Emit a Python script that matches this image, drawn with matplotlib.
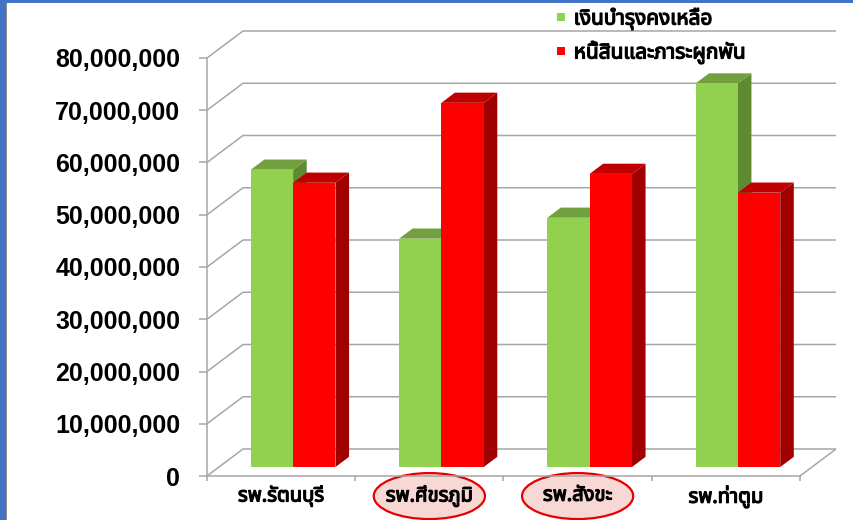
import matplotlib
matplotlib.use("Agg")
import matplotlib.pyplot as plt
import matplotlib.transforms as mtransforms
import matplotlib.patheffects as pe
from matplotlib import font_manager
from matplotlib.font_manager import FontProperties
from matplotlib.patches import Polygon, Ellipse, Rectangle
from matplotlib.lines import Line2D
from matplotlib.ticker import FuncFormatter

# ---- data ----
hospitals = ['รพ.รัตนบุรี', 'รพ.ศีขรภูมิ', 'รพ.สังขะ', 'รพ.ท่าตูม']
remaining = [56.9e6, 43.7e6, 47.7e6, 73.4e6]      # เงินบำรุงคงเหลือ
liabilities = [54.4e6, 69.7e6, 56.1e6, 52.5e6]    # หนี้สินและภาระผูกพัน
series_names = ['เงินบำรุงคงเหลือ', 'หนี้สินและภาระผูกพัน']
highlighted = [1, 2]   # circled hospitals
y_ticks = list(range(0, 80_000_001, 10_000_000))

green = ('#92D050', '#72A03E', '#5E8A32')   # front, top, side
red = ('#FF0000', '#C00000', '#A00000')
grid_col = '#A6A6A6'


def thai_family():
    # look for any installed font that has Thai glyphs, note if a bold face exists
    preferred = ['Noto Sans Thai', 'Noto Sans Thai UI', 'Noto Sans Thai Looped',
                 'Tahoma', 'Loma', 'Garuda', 'Norasi', 'Sarabun']
    found = {}
    for f in font_manager.fontManager.ttflist:
        try:
            if 0x0E23 in font_manager.get_font(f.fname).get_charmap():
                wt = f.weight if isinstance(f.weight, int) else 400
                found[f.name] = max(found.get(f.name, 0), wt)
        except Exception:
            pass
    for name in preferred + list(found):
        if name in found:
            return name, found[name] >= 600
    return 'DejaVu Sans', True


thai, thai_bold = thai_family()
thai_fam = [thai, 'DejaVu Sans']
# fake the bold weight with a thin outline when no bold face is installed
thick = [] if thai_bold else [pe.withStroke(linewidth=0.9, foreground='black')]

fig = plt.figure(figsize=(8.54, 5.2), dpi=100, facecolor='white')
ax = fig.add_axes([207 / 854, 44 / 520, 593 / 854, 418 / 520])
ax.set_xlim(-0.5, 3.5)
ax.set_ylim(0, 80e6)

# oblique depth of the floor, in data units (36 px right, 27 px up)
DX = 36 * 4 / 593
DY = 27 * 80e6 / 418
f0, f1 = 1 / 3, 0.71          # bar front / back as fraction of depth
w = 1 / 3.5                   # gap width 150 %

# walls: diagonal on side wall + horizontal on back wall
grid_kw = dict(color=grid_col, lw=1.1, zorder=0.5, clip_on=False, solid_capstyle='butt')
for v in y_ticks:
    ax.plot([-0.5, -0.5 + DX, 3.5 + DX], [v, v + DY, v + DY], **grid_kw)
ax.plot([3.5, 3.5 + DX], [0, DY], **grid_kw)

# pseudo 3D bars
z = 3
for i, (g, r) in enumerate(zip(remaining, liabilities)):
    for k, (val, cols) in enumerate([(g, green), (r, red)]):
        xl = i - w + k * w + f0 * DX
        xr = xl + w
        y0 = f0 * DY
        y1 = y0 + val
        ddx, ddy = (f1 - f0) * DX, (f1 - f0) * DY
        ax.add_patch(Polygon([(xr, y0), (xr, y1), (xr + ddx, y1 + ddy), (xr + ddx, y0 + ddy)],
                             closed=True, fc=cols[2], ec='none', zorder=z, clip_on=False))
        ax.add_patch(Polygon([(xl, y1), (xr, y1), (xr + ddx, y1 + ddy), (xl + ddx, y1 + ddy)],
                             closed=True, fc=cols[1], ec='none', zorder=z + 1, clip_on=False))
        ax.bar(xl, val, width=w, bottom=y0, align='edge', color=cols[0],
               linewidth=0, zorder=z + 2, clip_on=False)
        z += 3

# axes look
for s in ['top', 'right']:
    ax.spines[s].set_visible(False)
for s in ['left', 'bottom']:
    ax.spines[s].set_color(grid_col)
    ax.spines[s].set_linewidth(1.1)
ax.set_facecolor('none')

ax.set_yticks(y_ticks)
ax.yaxis.set_major_formatter(FuncFormatter(lambda v, _: f'{v:,.0f}'))
ax.tick_params(axis='y', length=5.8, width=1.1, color=grid_col, pad=13.5)
for lbl in ax.get_yticklabels():
    lbl.set_fontproperties(FontProperties(family=['Liberation Sans', 'DejaVu Sans'],
                                          weight='bold', size=18))

ax.set_xticks(range(len(hospitals)))
ax.set_xticklabels(hospitals)
ax.set_xticks([x - 0.5 for x in range(len(hospitals) + 1)], minor=True)
ax.tick_params(axis='x', which='major', length=0, pad=7)
ax.tick_params(axis='x', which='minor', length=3.5, width=1.1, color=grid_col)
for lbl in ax.get_xticklabels():
    lbl.set_fontproperties(FontProperties(family=thai_fam, weight='bold', size=14.5))
    lbl.set_path_effects(thick)

# red ellipses around two hospitals
trans = mtransforms.blended_transform_factory(ax.transData, ax.transAxes)
for idx in highlighted:
    ax.add_patch(Ellipse((idx, -0.048), 0.75, 0.11, transform=trans, fc='#F8D8D5',
                         ec='#E60000', lw=1.6, clip_on=False, zorder=1))

# legend
handles = [Line2D([], [], marker='s', ls='', markersize=6, color=green[0], markeredgewidth=0),
           Line2D([], [], marker='s', ls='', markersize=6, color=red[0], markeredgewidth=0)]
leg = fig.legend(handles, series_names, loc='upper left', bbox_to_anchor=(556 / 854, 1 - 7 / 520),
                 frameon=False, prop=FontProperties(family=thai_fam, weight='bold', size=15),
                 handlelength=0.5, handletextpad=0.35, labelspacing=0.45,
                 borderpad=0, borderaxespad=0)
for t in leg.get_texts():
    t.set_path_effects(thick)

# blue slide frame
fig.add_artist(Rectangle((0, 0), 6 / 854, 1, transform=fig.transFigure, color='#4472C4', lw=0))
fig.add_artist(Rectangle((6 / 854, 0), 1.2 / 854, 1, transform=fig.transFigure, color='#8C8C8C', lw=0))
fig.add_artist(Rectangle((0, 1 - 3 / 520), 1, 3 / 520, transform=fig.transFigure, color='#4472C4', lw=0))

fig.savefig('out.png', dpi=100, facecolor='white')
